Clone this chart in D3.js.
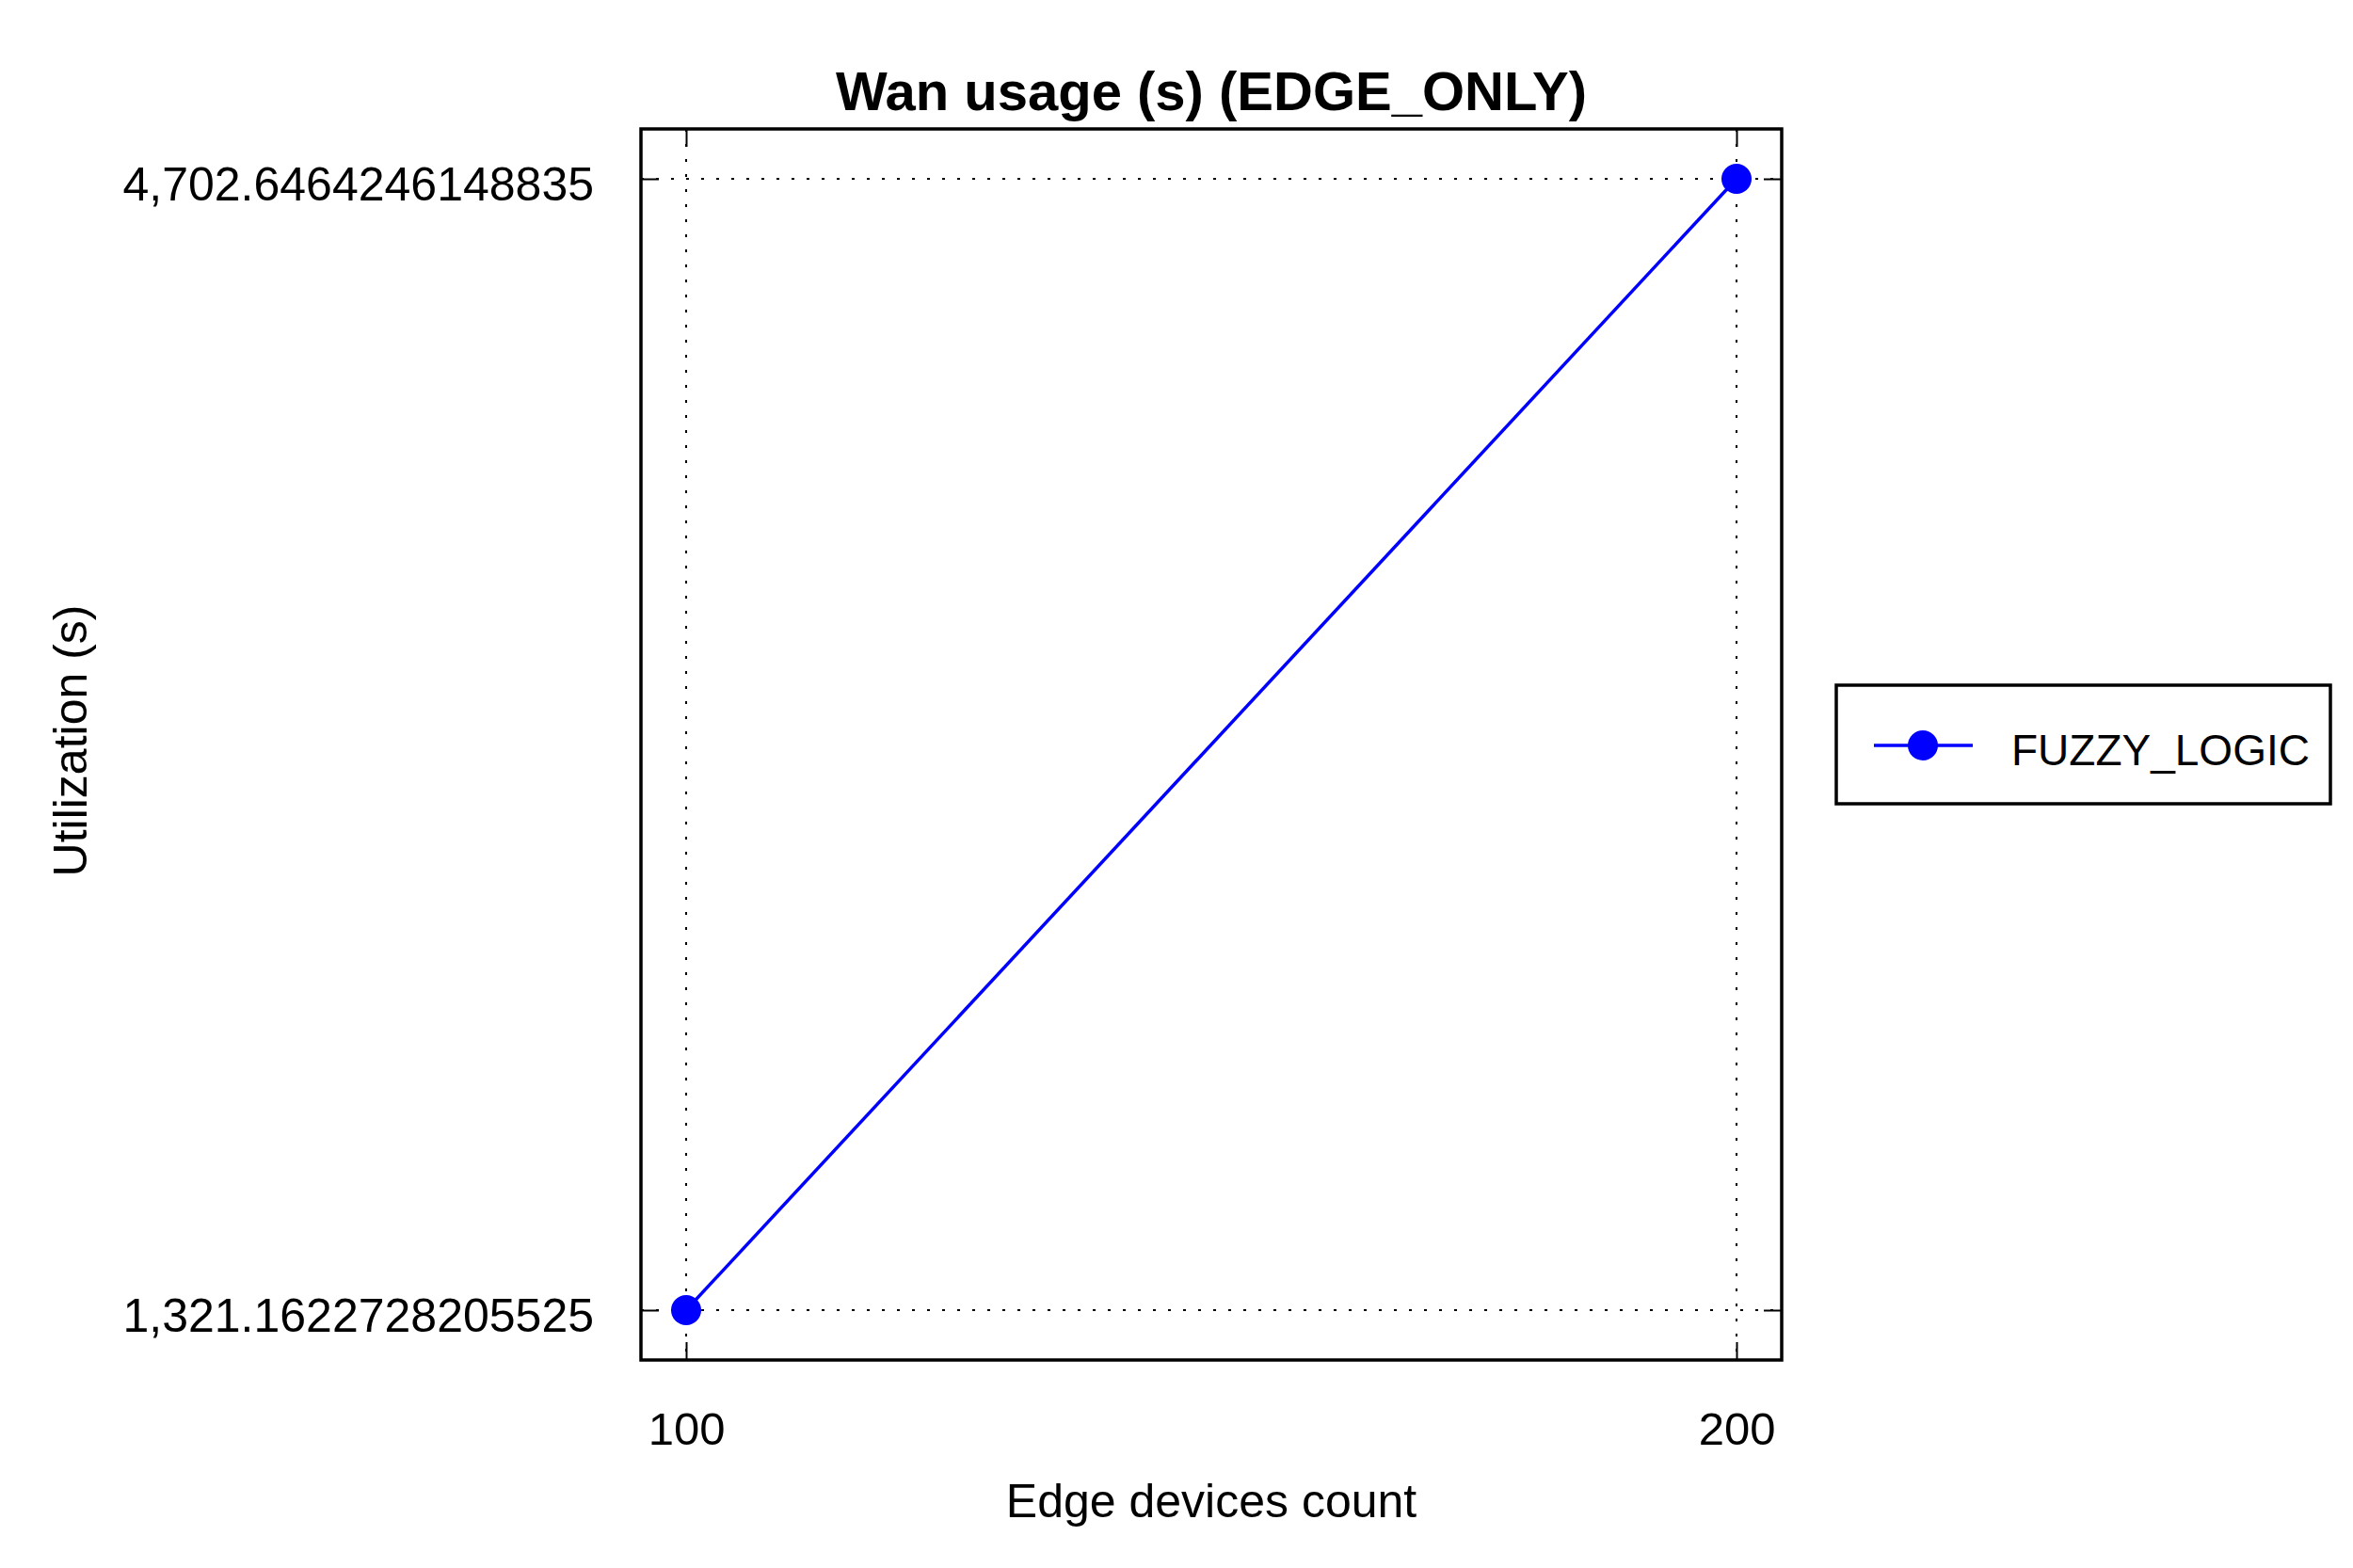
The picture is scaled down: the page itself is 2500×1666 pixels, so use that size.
<!DOCTYPE html>
<html>
<head>
<meta charset="utf-8">
<script src="https://cdn.jsdelivr.net/npm/d3@7"></script>
<style>
  body { margin: 0; background: #fff; }
  svg text { font-family: "Liberation Sans", Arial, sans-serif; fill: #000; }
</style>
</head>
<body>
<div class="chart"></div>
<script>
// chart data
const deviceCounts = [100, 200];
const wanUsage = [1321.1622728205525, 4702.6464246148835];
const seriesName = 'FUZZY_LOGIC';
const chartTitle = 'Wan usage (s) (EDGE_ONLY)';
const xTitle = 'Edge devices count';
const yTitle = 'Utilization (s)';

const w = 2500;
const h = 1666;
const frame = { left: 681, right: 1893, top: 137, bottom: 1445 };
const padX = 48;
const padY = 53;
const tickLen = 19;

// keep every digit of the value, only add thousands separators
const fmt = v => {
  const parts = String(v).split('.');
  parts[0] = parts[0].replace(/\B(?=(\d{3})+(?!\d))/g, ',');
  return parts.join('.');
};

const xScale = d3.scaleLinear()
                 .domain(d3.extent(deviceCounts))
                 .range([frame.left + padX, frame.right - padX]);

const yScale = d3.scaleLinear()
                 .domain(d3.extent(wanUsage))
                 .range([frame.bottom - padY, frame.top + padY]);

const svg = d3.select('.chart')
              .append('svg')
              .attr('width', w)
              .attr('height', h);

const fw = frame.right - frame.left;
const fh = frame.bottom - frame.top;

// dotted grid
svg.append('g')
   .selectAll('line')
   .data(deviceCounts)
   .enter()
   .append('line')
   .attr('x1', d => xScale(d))
   .attr('x2', d => xScale(d))
   .attr('y1', frame.top)
   .attr('y2', frame.bottom)
   .attr('stroke', '#000')
   .attr('stroke-width', 2)
   .attr('stroke-dasharray', '3,13');

svg.append('g')
   .selectAll('line')
   .data(wanUsage)
   .enter()
   .append('line')
   .attr('x1', frame.left)
   .attr('x2', frame.right)
   .attr('y1', d => yScale(d))
   .attr('y2', d => yScale(d))
   .attr('stroke', '#000')
   .attr('stroke-width', 2)
   .attr('stroke-dasharray', '3,13');

// axes with inward ticks
const styleAxis = g => {
  g.select('.domain').remove();
  g.selectAll('.tick line').attr('stroke', '#000').attr('stroke-width', 2);
};

svg.append('g')
   .attr('transform', `translate(${frame.left}, 0)`)
   .call(d3.axisLeft(yScale).tickValues(wanUsage).tickSize(-tickLen).tickPadding(50).tickFormat(fmt))
   .call(styleAxis)
   .call(g => g.selectAll('text')
               .attr('dy', '0.44em')
               .style('font-size', '50px')
               .style('font-family', '"Liberation Sans", Arial, sans-serif')
               .attr('fill', '#000'));

svg.append('g')
   .attr('transform', `translate(${frame.right}, 0)`)
   .call(d3.axisRight(yScale).tickValues(wanUsage).tickSize(-tickLen).tickFormat(''))
   .call(styleAxis);

svg.append('g')
   .attr('transform', `translate(0, ${frame.bottom})`)
   .call(d3.axisBottom(xScale).tickValues(deviceCounts).tickSize(-tickLen).tickPadding(55).tickFormat(d3.format('d')))
   .call(styleAxis)
   .call(g => g.selectAll('text')
               .style('font-size', '49px')
               .style('font-family', '"Liberation Sans", Arial, sans-serif')
               .attr('fill', '#000'));

svg.append('g')
   .attr('transform', `translate(0, ${frame.top})`)
   .call(d3.axisTop(xScale).tickValues(deviceCounts).tickSize(-tickLen).tickFormat(''))
   .call(styleAxis);

// frame
svg.append('rect')
   .attr('x', frame.left)
   .attr('y', frame.top)
   .attr('width', fw)
   .attr('height', fh)
   .attr('fill', 'none')
   .attr('stroke', '#000')
   .attr('stroke-width', 3.5);

// series
const points = deviceCounts.map((d, i) => [d, wanUsage[i]]);

svg.append('path')
   .datum(points)
   .attr('fill', 'none')
   .attr('stroke', '#0000ff')
   .attr('stroke-width', 3.5)
   .attr('d', d3.line().x(d => xScale(d[0])).y(d => yScale(d[1])));

svg.selectAll('circle.pt')
   .data(points)
   .enter()
   .append('circle')
   .attr('class', 'pt')
   .attr('cx', d => xScale(d[0]))
   .attr('cy', d => yScale(d[1]))
   .attr('r', 16)
   .attr('fill', '#0000ff');

// titles
svg.append('text')
   .attr('x', (frame.left + frame.right) / 2)
   .attr('y', 117)
   .style('text-anchor', 'middle')
   .style('font-size', '58px')
   .style('font-weight', 'bold')
   .text(chartTitle);

svg.append('text')
   .attr('x', (frame.left + frame.right) / 2)
   .attr('y', 1612)
   .style('text-anchor', 'middle')
   .style('font-size', '50px')
   .text(xTitle);

svg.append('text')
   .attr('transform', 'rotate(-90)')
   .attr('x', -787)
   .attr('y', 92)
   .style('text-anchor', 'middle')
   .style('font-size', '50px')
   .text(yTitle);

// legend
const legend = svg.append('g');

legend.append('rect')
      .attr('x', 1951)
      .attr('y', 728)
      .attr('width', 525)
      .attr('height', 126)
      .attr('fill', '#fff')
      .attr('stroke', '#000')
      .attr('stroke-width', 3.5);

legend.append('line')
      .attr('x1', 1991)
      .attr('x2', 2096)
      .attr('y1', 792)
      .attr('y2', 792)
      .attr('stroke', '#0000ff')
      .attr('stroke-width', 3.5);

legend.append('circle')
      .attr('cx', 2043)
      .attr('cy', 792)
      .attr('r', 16)
      .attr('fill', '#0000ff');

legend.append('text')
      .attr('x', 2137)
      .attr('y', 813)
      .style('font-size', '46px')
      .text(seriesName);
</script>
</body>
</html>
